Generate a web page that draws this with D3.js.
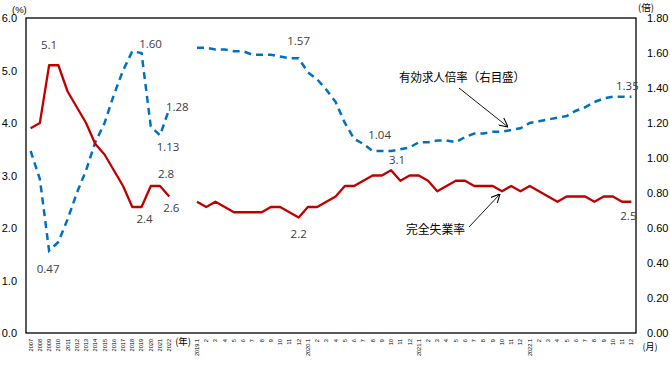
<!DOCTYPE html>
<html><head><meta charset="utf-8">
<script src="https://cdn.jsdelivr.net/npm/d3@7"></script>
<style>body{margin:0;background:#fff}svg{display:block}</style>
</head><body>
<script>
// ---- data ----
const years = ["2007","2008","2009","2010","2011","2012","2013","2014","2015","2016","2017","2018","2019","2020","2021","2022"];
const unempAnnual = [3.9,4.0,5.1,5.1,4.6,4.3,4.0,3.6,3.4,3.1,2.8,2.4,2.4,2.8,2.8,2.6];
const ratioAnnual = [1.04,0.88,0.47,0.52,0.65,0.80,0.93,1.09,1.20,1.36,1.50,1.61,1.60,1.18,1.13,1.28];
const monthLabels = ["2019.1","2","3","4","5","6","7","8","9","10","11","12",
                     "2020.1","2","3","4","5","6","7","8","9","10","11","12",
                     "2021.1","2","3","4","5","6","7","8","9","10","11","12",
                     "2022.1","2","3","4","5","6","7","8","9","10","11","12"];
const unempMonthly = [2.5,2.4,2.5,2.4,2.3,2.3,2.3,2.3,2.4,2.4,2.3,2.2,
                      2.4,2.4,2.5,2.6,2.8,2.8,2.9,3.0,3.0,3.1,2.9,3.0,
                      3.0,2.9,2.7,2.8,2.9,2.9,2.8,2.8,2.8,2.7,2.8,2.7,
                      2.8,2.7,2.6,2.5,2.6,2.6,2.6,2.5,2.6,2.6,2.5,2.5];
const ratioMonthly = [1.63,1.63,1.62,1.62,1.61,1.61,1.59,1.59,1.59,1.58,1.57,1.57,
                      1.49,1.45,1.39,1.32,1.20,1.11,1.08,1.04,1.04,1.04,1.05,1.06,
                      1.09,1.09,1.10,1.10,1.09,1.12,1.14,1.14,1.15,1.15,1.16,1.17,
                      1.20,1.21,1.22,1.23,1.24,1.27,1.29,1.32,1.34,1.35,1.35,1.35];
const leftTicks = [0,1,2,3,4,5,6];
const rightTicks = [0,0.2,0.4,0.6,0.8,1.0,1.2,1.4,1.6,1.8];
const gapCount = 2;

// combined category list
const cats = [...years, ...Array(gapCount).fill(null), ...monthLabels];
const unemp = [...unempAnnual, ...Array(gapCount).fill(null), ...unempMonthly];
const ratio = [...ratioAnnual, ...Array(gapCount).fill(null), ...ratioMonthly];

const W = 670, H = 365;
const L = 26, R = 636, T = 18, B = 333;
const svg = d3.select("body").append("svg").attr("width", W).attr("height", H);

const x = d3.scaleBand().domain(d3.range(cats.length)).range([L, R]).padding(0);
const cx = i => x(i) + x.bandwidth() / 2;
const yL = d3.scaleLinear().domain([0, 6]).range([B, T]);
const yR = d3.scaleLinear().domain([0, 1.8]).range([B, T]);

const font = "'Liberation Sans', Arial, sans-serif";
const jp = "'Noto Sans CJK JP', sans-serif";

// lines
const lineU = d3.line().defined(d => d != null).x((d, i) => cx(i)).y(d => yL(d));
const lineR = d3.line().defined(d => d != null).x((d, i) => cx(i)).y(d => yR(d));
svg.append("path").attr("d", lineR(ratio)).attr("fill", "none")
  .attr("stroke", "#0070C0").attr("stroke-width", 2.5).attr("stroke-dasharray", "7,5");
svg.append("path").attr("d", lineU(unemp)).attr("fill", "none")
  .attr("stroke", "#C00000").attr("stroke-width", 2.3).attr("stroke-linejoin", "round");

// frame
svg.append("rect").attr("x", L).attr("y", T).attr("width", R - L).attr("height", B - T)
  .attr("fill", "none").attr("stroke", "#000").attr("stroke-width", 1.3);

// axes
const gl = svg.append("g").attr("transform", `translate(${L},0)`)
  .call(d3.axisLeft(yL).tickValues(leftTicks).tickFormat(d3.format(".1f")).tickSize(0).tickPadding(9));
const gr = svg.append("g").attr("transform", `translate(${R},0)`)
  .call(d3.axisRight(yR).tickValues(rightTicks).tickFormat(d3.format(".2f")).tickSize(0).tickPadding(11));
[gl, gr].forEach(g => {
  g.select(".domain").remove();
  g.selectAll("text").attr("font-family", font).attr("font-size", 11).attr("fill", "#000");
});
const gx = svg.append("g").attr("transform", `translate(0,${B})`)
  .call(d3.axisBottom(x).tickValues(d3.range(cats.length).filter(i => cats[i] != null))
    .tickFormat(i => cats[i]).tickSize(0));
gx.select(".domain").remove();
gx.selectAll("text").attr("font-family", font).attr("font-size", 5.6).attr("fill", "#000")
  .attr("text-anchor", "end").attr("transform", "rotate(-90)")
  .attr("x", -6).attr("y", 0).attr("dy", "0.35em");

// unit labels
svg.append("text").attr("x", 12).attr("y", 13).text("(%)")
  .attr("font-family", font).attr("font-size", 9.5).attr("fill", "#000");
svg.append("text").attr("x", 638).attr("y", 11).text("(倍)")
  .attr("font-family", jp).attr("font-size", 9.5).attr("fill", "#000");
svg.append("text").attr("x", cx(16) + x.bandwidth() / 2).attr("y", 345).attr("text-anchor", "middle").text("(年)")
  .attr("font-family", jp).attr("font-size", 9.5).attr("fill", "#000");
svg.append("text").attr("x", 650).attr("y", 350).attr("text-anchor", "middle").text("(月)")
  .attr("font-family", jp).attr("font-size", 9).attr("fill", "#000");

// data labels
const yi = years.length + gapCount;
const labels = [
  {i: 2, v: unempAnnual[2], s: yL, t: "5.1", dx: 0, dy: -20},
  {i: 12, v: unempAnnual[12], s: yL, t: "2.4", dx: 3, dy: 12},
  {i: 14, v: unempAnnual[14], s: yL, t: "2.8", dx: 6, dy: -12},
  {i: 15, v: unempAnnual[15], s: yL, t: "2.6", dx: 2, dy: 11},
  {i: yi + 11, v: unempMonthly[11], s: yL, t: "2.2", dx: 0, dy: 16},
  {i: yi + 21, v: unempMonthly[21], s: yL, t: "3.1", dx: 6, dy: -10},
  {i: yi + 47, v: unempMonthly[47], s: yL, t: "2.5", dx: -3, dy: 14},
  {i: 2, v: ratioAnnual[2], s: yR, t: "0.47", dx: -1, dy: 18},
  {i: 12, v: ratioAnnual[12], s: yR, t: "1.60", dx: 9, dy: -9},
  {i: 14, v: ratioAnnual[14], s: yR, t: "1.13", dx: 8, dy: 12},
  {i: 15, v: ratioAnnual[15], s: yR, t: "1.28", dx: 8, dy: -2},
  {i: yi + 11, v: ratioMonthly[11], s: yR, t: "1.57", dx: 0, dy: -17},
  {i: yi + 19, v: ratioMonthly[19], s: yR, t: "1.04", dx: 7, dy: -16},
  {i: yi + 47, v: ratioMonthly[47], s: yR, t: "1.35", dx: -4, dy: -11}
];
svg.append("g").selectAll("text").data(labels).join("text")
  .attr("x", d => cx(d.i) + d.dx).attr("y", d => d.s(d.v) + d.dy)
  .attr("text-anchor", "middle").attr("dy", "0.35em").text(d => d.t)
  .attr("font-family", "'Open Sans', sans-serif").attr("font-size", 11.5).attr("fill", "#404040");

// annotations
const defs = svg.append("defs");
defs.append("marker").attr("id", "arr").attr("viewBox", "0 0 10 10").attr("refX", 10).attr("refY", 5)
  .attr("markerWidth", 9).attr("markerHeight", 9).attr("orient", "auto").attr("markerUnits", "userSpaceOnUse")
  .append("path").attr("d", "M0,0 L10,5 L0,10").attr("fill", "none").attr("stroke", "#000").attr("stroke-width", 1.2);

svg.append("text").attr("x", 399).attr("y", 78).attr("dy", "0.35em").text("有効求人倍率（右目盛）")
  .attr("font-family", jp).attr("font-size", 12).attr("fill", "#000")
  .attr("textLength", 126).attr("lengthAdjust", "spacingAndGlyphs");
svg.append("line").attr("x1", 459).attr("y1", 88).attr("x2", 508).attr("y2", 127)
  .attr("stroke", "#000").attr("stroke-width", 0.9).attr("marker-end", "url(#arr)");

svg.append("text").attr("x", 406).attr("y", 230).attr("dy", "0.35em").text("完全失業率")
  .attr("font-family", jp).attr("font-size", 12).attr("fill", "#000")
  .attr("textLength", 59).attr("lengthAdjust", "spacingAndGlyphs");
svg.append("line").attr("x1", 469).attr("y1", 227).attr("x2", 500).attr("y2", 194)
  .attr("stroke", "#000").attr("stroke-width", 0.9).attr("marker-end", "url(#arr)");
</script>
</body></html>
